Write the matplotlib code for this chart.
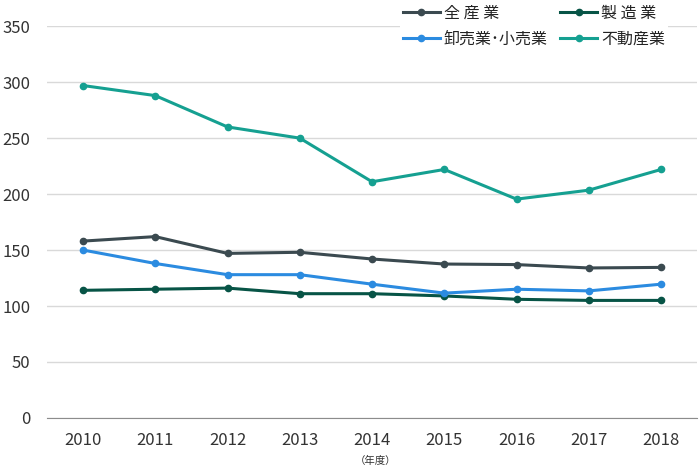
import matplotlib
matplotlib.use("Agg")
import matplotlib.pyplot as plt

plt.rcParams['font.family'] = ['Noto Sans CJK JP', 'DejaVu Sans']

# === DATA ===
years = ["2010", "2011", "2012", "2013", "2014", "2015", "2016", "2017", "2018"]
all_industry = [158, 162, 147, 148, 142, 137.5, 137, 134, 134.5]
manufacturing = [114, 115, 116, 111, 111, 109, 106, 105, 105]
wholesale_retail = [150, 138, 128, 128, 119.5, 111.5, 115, 113.5, 119.5]
real_estate = [297, 288, 260, 250, 211, 222, 195.5, 203.5, 222]

series = [
    ("全 産 業", all_industry, "#3b4a50"),
    ("製 造 業", manufacturing, "#075446"),
    ("卸売業･小売業", wholesale_retail, "#2b8be0"),
    ("不動産業", real_estate, "#15a091"),
]

fig = plt.figure(figsize=(7, 4.68), dpi=100)
ax = fig.add_axes([0.067, 0.107, 0.929, 0.837])

x = list(range(len(years)))
handles = {}
for label, vals, color in series:
    line, = ax.plot(x, vals, color=color, lw=2.2, marker="o", markersize=4.5, label=label)
    handles[label] = line

ax.set_xlim(-0.5, len(years) - 0.5)
ax.set_ylim(0, 350)
ax.set_yticks(range(0, 351, 50))
ax.set_xticks(x)
ax.set_xticklabels(years)
ax.grid(axis="y", color="#d9d9d9", lw=1)
ax.set_axisbelow(True)
for s in ["top", "right", "left"]:
    ax.spines[s].set_visible(False)
ax.spines["bottom"].set_color("#8c8c8c")
ax.tick_params(axis="both", length=0, labelsize=12, colors="#333333")
ax.tick_params(axis="x", pad=10)
ax.tick_params(axis="y", pad=12)

fig.text(0.537, 0.008, "（年度）", fontsize=7.5, color="#333333", ha="center")

# row-major order like the original: 全産業, 製造業 / 卸売業, 不動産業
order = ["全 産 業", "卸売業･小売業", "製 造 業", "不動産業"]
leg = fig.legend([handles[k] for k in order], order, ncol=2, loc="upper right",
                 bbox_to_anchor=(0.965, 1.012), frameon=True,
                 facecolor="white", edgecolor="none", framealpha=1, fontsize=11.5,
                 handlelength=2.3, handletextpad=0.25, columnspacing=0.8,
                 labelspacing=0.55, borderpad=0.15)
for t in leg.get_texts():
    t.set_color("#222222")

fig.savefig("out.png", dpi=100)
